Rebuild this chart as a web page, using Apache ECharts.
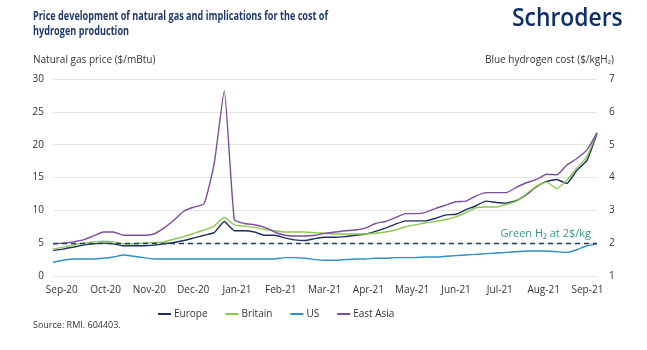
<!DOCTYPE html>
<html>
<head>
<meta charset="utf-8">
<script src="https://cdn.jsdelivr.net/npm/echarts@6/dist/echarts.min.js"></script>
<style>
  html, body { margin: 0; padding: 0; background: #fff; }
  #chart { width: 647px; height: 350px; }
</style>
</head>
<body>
<div id="chart"></div>
<script>
// weekly readings, first week ends ~6 days before 1 Sep 2020
var startMonth = -0.2;
var weekInMonths = 7 / 30.44;
var monthLabels = ['Sep-20','Oct-20','Nov-20','Dec-20','Jan-21','Feb-21','Mar-21','Apr-21','May-21','Jun-21','Jul-21','Aug-21','Sep-21'];

var europe = [3.9,4.1,4.4,4.7,4.9,5.0,4.9,4.6,4.6,4.6,4.7,4.9,5.1,5.4,5.8,6.2,6.6,8.3,6.9,6.9,6.7,6.2,6.2,5.8,5.5,5.4,5.7,5.9,5.9,6.0,6.2,6.4,6.8,7.3,7.9,8.4,8.4,8.4,8.8,9.3,9.4,10.1,10.7,11.4,11.2,11.1,11.5,12.4,13.6,14.4,14.7,14.1,16.1,17.6,21.7];
var britain = [4.1,4.4,4.7,5.0,5.2,5.3,5.2,4.9,4.9,5.0,5.1,5.2,5.6,6.0,6.5,7.0,7.6,8.9,7.8,7.6,7.4,7.1,6.9,6.7,6.7,6.7,6.6,6.5,6.4,6.4,6.4,6.4,6.5,6.7,7.0,7.5,7.8,8.1,8.3,8.6,9.0,9.7,10.4,10.5,10.5,10.9,11.4,12.5,13.7,14.3,13.3,14.6,16.4,18.2,21.9];
var us = [2.1,2.4,2.6,2.6,2.6,2.7,2.9,3.2,3.0,2.8,2.6,2.6,2.6,2.6,2.6,2.6,2.6,2.6,2.6,2.6,2.6,2.6,2.6,2.8,2.8,2.7,2.5,2.4,2.4,2.5,2.6,2.6,2.7,2.7,2.8,2.8,2.8,2.9,2.9,3.0,3.1,3.2,3.3,3.4,3.5,3.6,3.7,3.8,3.8,3.8,3.7,3.6,4.0,4.6,4.9];
var eastAsia = [4.9,5.0,5.2,5.5,6.1,6.7,6.7,6.2,6.2,6.2,6.4,7.3,8.5,9.9,10.5,11.0,17.1,28.2,8.6,8.0,7.8,7.4,6.7,6.2,6.1,6.1,6.2,6.5,6.7,6.9,7.0,7.3,8.0,8.3,8.9,9.5,9.5,9.7,10.3,10.8,11.3,11.4,12.2,12.7,12.7,12.7,13.5,14.2,14.7,15.5,15.4,16.9,17.9,19.2,21.8];

var greenH2Gas = 5; // 2 $/kg on the hydrogen axis

var navy = '#1d2f5e';
var font = 'Open Sans';

function toPairs(arr){
	var out = [];
	for(var i=0; i<arr.length; i++){
		out.push([startMonth + i*weekInMonths, arr[i]]);
	}
	return out;
}

var tickValues = [];
for(var m=0; m<monthLabels.length; m++){ tickValues.push(m); }

function makeLine(name, arr, color){
	return {
		name: name,
		type: 'line',
		data: toPairs(arr),
		showSymbol: false,
		smooth: 0.15,
		lineStyle: { width: 1.4, color: color },
		itemStyle: { color: color },
		z: 3
	};
}

var series = [
	makeLine('Europe', europe, navy),
	makeLine('Britain', britain, '#8cc94f'),
	makeLine('US', us, '#2f8fc4'),
	makeLine('East Asia', eastAsia, '#7e4d9c')
];
series[0].markLine = {
	silent: true,
	symbol: 'none',
	lineStyle: { type: [5, 4], color: '#1e3d58', width: 1.4 },
	label: {
		show: true,
		position: 'insideEndTop',
		formatter: 'Green H\u2082 at 2$/kg',
		color: '#3a978c',
		fontFamily: font,
		fontSize: 11,
		distance: [6, 4]
	},
	data: [{ yAxis: greenH2Gas }]
};

var chart = echarts.init(document.getElementById('chart'));
chart.setOption({
	animation: false,
	backgroundColor: '#fff',
	textStyle: { fontFamily: font },
	grid: { left: 53, right: 50, top: 79, bottom: 74 },
	graphic: [
		{ type: 'text', x: 33, y: 9, scaleX: 0.76, style: { text: 'Price development of natural gas and implications for the cost of\nhydrogen production', fill: '#1f3a6a', font: 'bold 12px "Open Sans"', lineHeight: 15 } },
		{ type: 'text', x: 512, y: 6, scaleX: 0.88, style: { text: 'Schroders', fill: '#0e2f6b', font: '600 26px "Open Sans"' } },
		{ type: 'text', left: 33, top: 55, style: { text: 'Natural gas price ($/mBtu)', fill: '#333', font: '10px "Open Sans"' } },
		{ type: 'text', right: 33, top: 55, style: { text: 'Blue hydrogen cost ($/kgH\u2082)', fill: '#333', font: '10px "Open Sans"' } },
		{ type: 'text', left: 33, top: 321, style: { text: 'Source: RMI. 604403.', fill: '#333', font: '9px "Open Sans"' } }
	],
	legend: {
		left: 153,
		top: 304,
		itemWidth: 13,
		itemHeight: 2,
		itemGap: 18,
		icon: 'rect',
		textStyle: { fontFamily: font, fontSize: 10, color: '#333', padding: [0, 0, 0, -2] },
		data: ['Europe', 'Britain', 'US', 'East Asia']
	},
	xAxis: {
		type: 'value',
		min: startMonth,
		max: startMonth + (europe.length - 1) * weekInMonths,
		axisLine: { show: false },
		axisTick: { show: false },
		splitLine: { show: false },
		axisLabel: {
			customValues: tickValues,
			formatter: function(v){ return monthLabels[Math.round(v)]; },
			color: '#333',
			fontSize: 10,
			margin: 9
		}
	},
	yAxis: [
		{
			type: 'value',
			min: 0, max: 30, interval: 5,
			axisLine: { show: false },
			axisTick: { show: false },
			axisLabel: { color: '#333', fontSize: 10, margin: 9 },
			splitLine: { lineStyle: { color: '#e4e4e4', width: 1 } }
		},
		{
			type: 'value',
			position: 'right',
			min: 1, max: 7, interval: 1,
			axisLine: { show: false },
			axisTick: { show: false },
			axisLabel: { color: '#333', fontSize: 10, margin: 12 },
			splitLine: { show: false }
		}
	],
	series: series
});
</script>
</body>
</html>
